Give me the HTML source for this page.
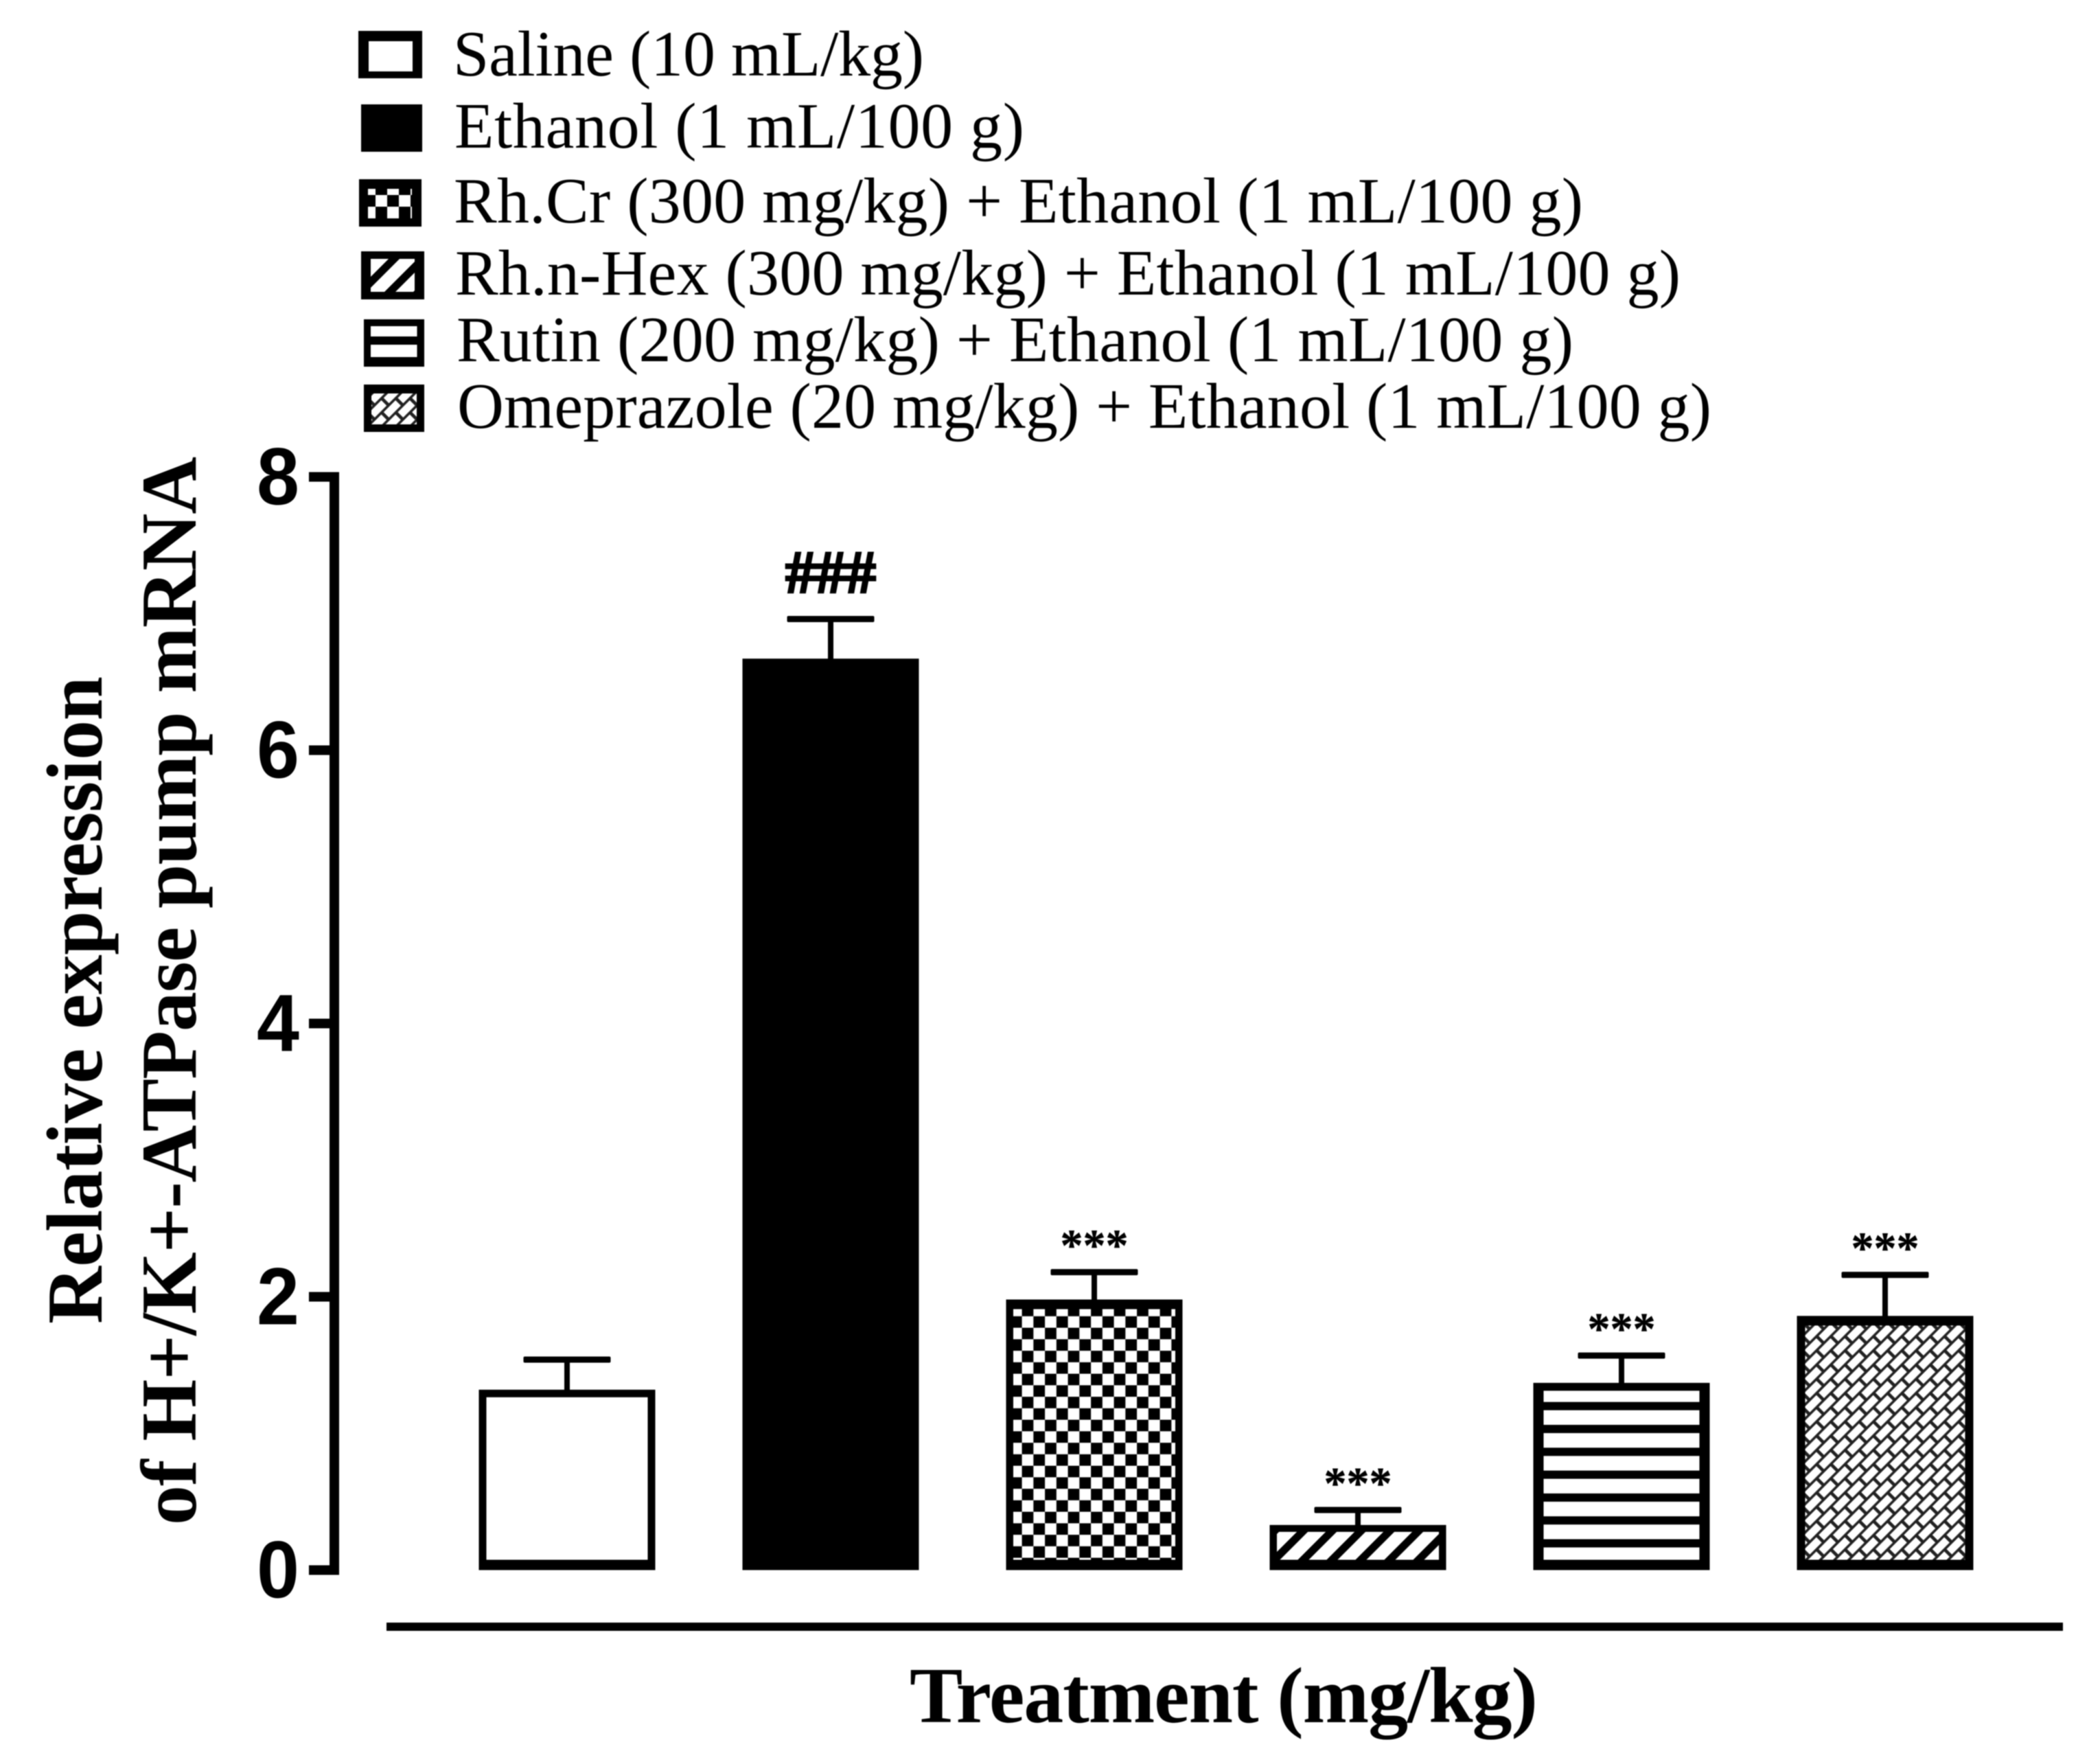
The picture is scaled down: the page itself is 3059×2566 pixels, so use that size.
<!DOCTYPE html>
<html lang="en">
<head>
<meta charset="utf-8">
<title>Relative expression of H+/K+-ATPase pump mRNA</title>
<style>
  html, body { margin: 0; padding: 0; background: #fff; }
  svg { display: block; filter: blur(0.7px); }
  .serif { font-family: "Liberation Serif", "Times New Roman", serif; fill: #000; }
  .sans { font-family: "Liberation Sans", Arial, sans-serif; fill: #000; }
  .legend-text { font-size: 94px; }
  .title-text { font-size: 116px; font-weight: bold; }
  .tick-text { font-size: 118px; font-weight: bold; }
</style>
</head>
<body>
<svg id="chart" xmlns="http://www.w3.org/2000/svg" width="3059" height="2566" viewBox="0 0 3059 2566">
  <defs>
    <pattern id="fill-checker" patternUnits="userSpaceOnUse" x="1488.6" y="1933.6" width="33.5" height="33.5">
      <rect width="33.5" height="33.5" fill="#fff"/>
      <rect width="16.75" height="16.75" fill="#000"/>
      <rect x="16.75" y="16.75" width="16.75" height="16.75" fill="#000"/>
    </pattern>
    <pattern id="fill-diagonal" patternUnits="userSpaceOnUse" x="2972.65" y="0" width="29.7" height="29.7" patternTransform="rotate(45)">
      <rect width="29.7" height="29.7" fill="#fff"/>
      <rect width="11.3" height="29.7" fill="#000"/>
    </pattern>
    <pattern id="fill-stripes" patternUnits="userSpaceOnUse" x="0" y="2041.7" width="40" height="33.3">
      <rect width="40" height="33.3" fill="#fff"/>
      <rect width="40" height="12" fill="#000"/>
    </pattern>
    <pattern id="fill-hatch" patternUnits="userSpaceOnUse" x="0" y="0" width="29.27" height="29.27" patternTransform="rotate(-45)">
      <rect width="29.27" height="29.27" fill="#222"/>
      <rect x="0" y="0" width="24.5" height="11" fill="#fff"/>
      <rect x="14.63" y="14.63" width="14.64" height="11" fill="#fff"/>
      <rect x="0" y="14.63" width="9.86" height="11" fill="#fff"/>
    </pattern>
    <pattern id="legend-checker" patternUnits="userSpaceOnUse" x="547" y="267" width="34" height="34">
      <rect width="34" height="34" fill="#fff"/>
      <rect width="17" height="17" fill="#000"/>
      <rect x="17" y="17" width="17" height="17" fill="#000"/>
    </pattern>
    <pattern id="legend-diagonal" patternUnits="userSpaceOnUse" x="696.55" y="0" width="29.7" height="29.7" patternTransform="rotate(45)">
      <rect width="29.7" height="29.7" fill="#fff"/>
      <rect width="11.3" height="29.7" fill="#000"/>
    </pattern>
  </defs>

  <rect width="3059" height="2566" fill="#fff"/>

  <g>
    <g>
      <rect x="522" y="45" width="93" height="69" fill="#000"/>
      <rect x="537" y="60" width="64" height="44" fill="#fff"/>
      <text class="serif legend-text" x="660" y="110" textLength="686">Saline (10 mL/kg)</text>
    </g>
    <g>
      <rect x="526" y="152" width="89" height="69" fill="#000"/>
      <text class="serif legend-text" x="662" y="215" textLength="830">Ethanol (1 mL/100 g)</text>
    </g>
    <g>
      <rect x="523" y="261" width="91" height="69" fill="#000"/>
      <rect x="536" y="275" width="64" height="43" fill="url(#legend-checker)"/>
      <text class="serif legend-text" x="661" y="324" textLength="1645">Rh.Cr (300 mg/kg) + Ethanol (1 mL/100 g)</text>
    </g>
    <g>
      <rect x="526" y="366" width="92" height="70" fill="#000"/>
      <rect x="540" y="377" width="64" height="48" fill="url(#legend-diagonal)"/>
      <text class="serif legend-text" x="663" y="429" textLength="1785">Rh.n-Hex (300 mg/kg) + Ethanol (1 mL/100 g)</text>
    </g>
    <g>
      <rect x="530" y="465" width="88" height="69" fill="#000"/>
      <rect x="540" y="475" width="67.5" height="15" fill="#fff"/>
      <rect x="540" y="502" width="67.5" height="18" fill="#fff"/>
      <text class="serif legend-text" x="665" y="526" textLength="1627">Rutin (200 mg/kg) + Ethanol (1 mL/100 g)</text>
    </g>
    <g>
      <rect x="530" y="560" width="88" height="69" fill="#000"/>
      <rect x="541" y="573" width="66" height="45" fill="url(#fill-hatch)"/>
      <text class="serif legend-text" x="666" y="623" textLength="1827">Omeprazole (20 mg/kg) + Ethanol (1 mL/100 g)</text>
    </g>
  </g>

  <g id="y-axis"></g>
  <g id="bars"></g>

  <text class="serif title-text" transform="translate(148,1928) rotate(-90)" textLength="943">Relative expression</text>
  <text class="serif title-text" transform="translate(285,2221) rotate(-90)" textLength="1556">of H+/K+-ATPase pump mRNA</text>

  <rect x="563" y="2363" width="2442" height="12" fill="#000"/>
  <text class="serif title-text" x="1325" y="2508" textLength="915">Treatment (mg/kg)</text>
</svg>

<script>
const categories = ['saline', 'ethanol', 'rh-cr', 'rh-n-hex', 'rutin', 'omeprazole'];
const means = [1.32, 6.67, 1.98, 0.33, 1.37, 1.86];
const errors = [0.22, 0.29, 0.20, 0.11, 0.20, 0.30];
const significance = ['', '###', '***', '***', '***', '***'];
const yTicks = [0, 2, 4, 6, 8];
const yTickLabels = ['0', '2', '4', '6', '8'];

const barStyles = {
  'saline':     { fill: '#fff', side: 11, top: 11, bottom: 15 },
  'ethanol':    { fill: '#000', side: 0,  top: 0,  bottom: 0 },
  'rh-cr':      { fill: 'url(#fill-checker)', side: 10.5, top: 14, bottom: 15 },
  'rh-n-hex':   { fill: 'url(#fill-diagonal)', side: 10.5, top: 10, bottom: 15 },
  'rutin':      { fill: 'url(#fill-stripes)', side: 15, top: 11.5, bottom: 15 },
  'omeprazole': { fill: 'url(#fill-hatch)', side: 12, top: 14, bottom: 15 }
};

const NS = 'http://www.w3.org/2000/svg';
const yScale = function (v) { return 2286.5 - v * 199; };
const xScale = function (i) { return 826 + i * 384; };
const BAR_W = 257;
const CAP_W = 127;
const STEM_W = 8;
const CAP_H = 9;

function make(tag, parent, props) {
  const el = document.createElementNS(NS, tag);
  Object.keys(props).forEach(function (k) { el.setAttribute(k, props[k]); });
  parent.appendChild(el);
  return el;
}

const axisGroup = document.getElementById('y-axis');
const axisLine = make('rect', axisGroup, {
  x: 480, y: yScale(8) - 7, width: 14, height: yScale(0) - yScale(8) + 14, fill: '#000'
});



yTicks.forEach(function (t, i) {
  const tick = make('rect', axisGroup, {
    x: 450, y: yScale(t) - 7, width: 44, height: 14, fill: '#000'
  });
  
  
  const label = make('text', axisGroup, {
    x: 374, y: yScale(t) + 40, textLength: 62, lengthAdjust: 'spacingAndGlyphs', 'class': 'sans tick-text'
  });
  
  
  label.textContent = yTickLabels[i];
});

const barsGroup = document.getElementById('bars');
categories.forEach(function (cat, i) {
  const cx = xScale(i);
  const top = yScale(means[i]);
  const bottom = yScale(0);
  const errTop = yScale(means[i] + errors[i]);
  const style = barStyles[cat];

  const stem = make('rect', barsGroup, {
    x: cx - STEM_W / 2, y: errTop, width: STEM_W, height: top - errTop + 2, fill: '#000'
  });
  
  

  const cap = make('rect', barsGroup, {
    x: cx - CAP_W / 2, y: errTop - CAP_H / 2, width: CAP_W, height: CAP_H, rx: 2, fill: '#000'
  });
  
  

  const bar = make('rect', barsGroup, {
    x: cx - BAR_W / 2, y: top, width: BAR_W, height: bottom - top, fill: '#000'
  });
  
  

  if (style.side > 0) {
    const inner = make('rect', barsGroup, {
      x: cx - BAR_W / 2 + style.side,
      y: top + style.top,
      width: BAR_W - 2 * style.side,
      height: Math.max(0, bottom - top - style.top - style.bottom),
      fill: style.fill
    });
    
    
  }

  if (significance[i]) {
    const isHash = significance[i].charAt(0) === '#';
    const mark = make('text', barsGroup, {
      x: cx,
      y: errTop - (isHash ? 39 : 17),
      'text-anchor': 'middle',
      'class': 'serif',
      'font-size': isHash ? 88 : 66,
      'font-weight': 'bold',
      stroke: '#000',
      'stroke-width': isHash ? 3 : 0.5
    });
    
    
    mark.textContent = significance[i];
  }
});
</script>
</body>
</html>
